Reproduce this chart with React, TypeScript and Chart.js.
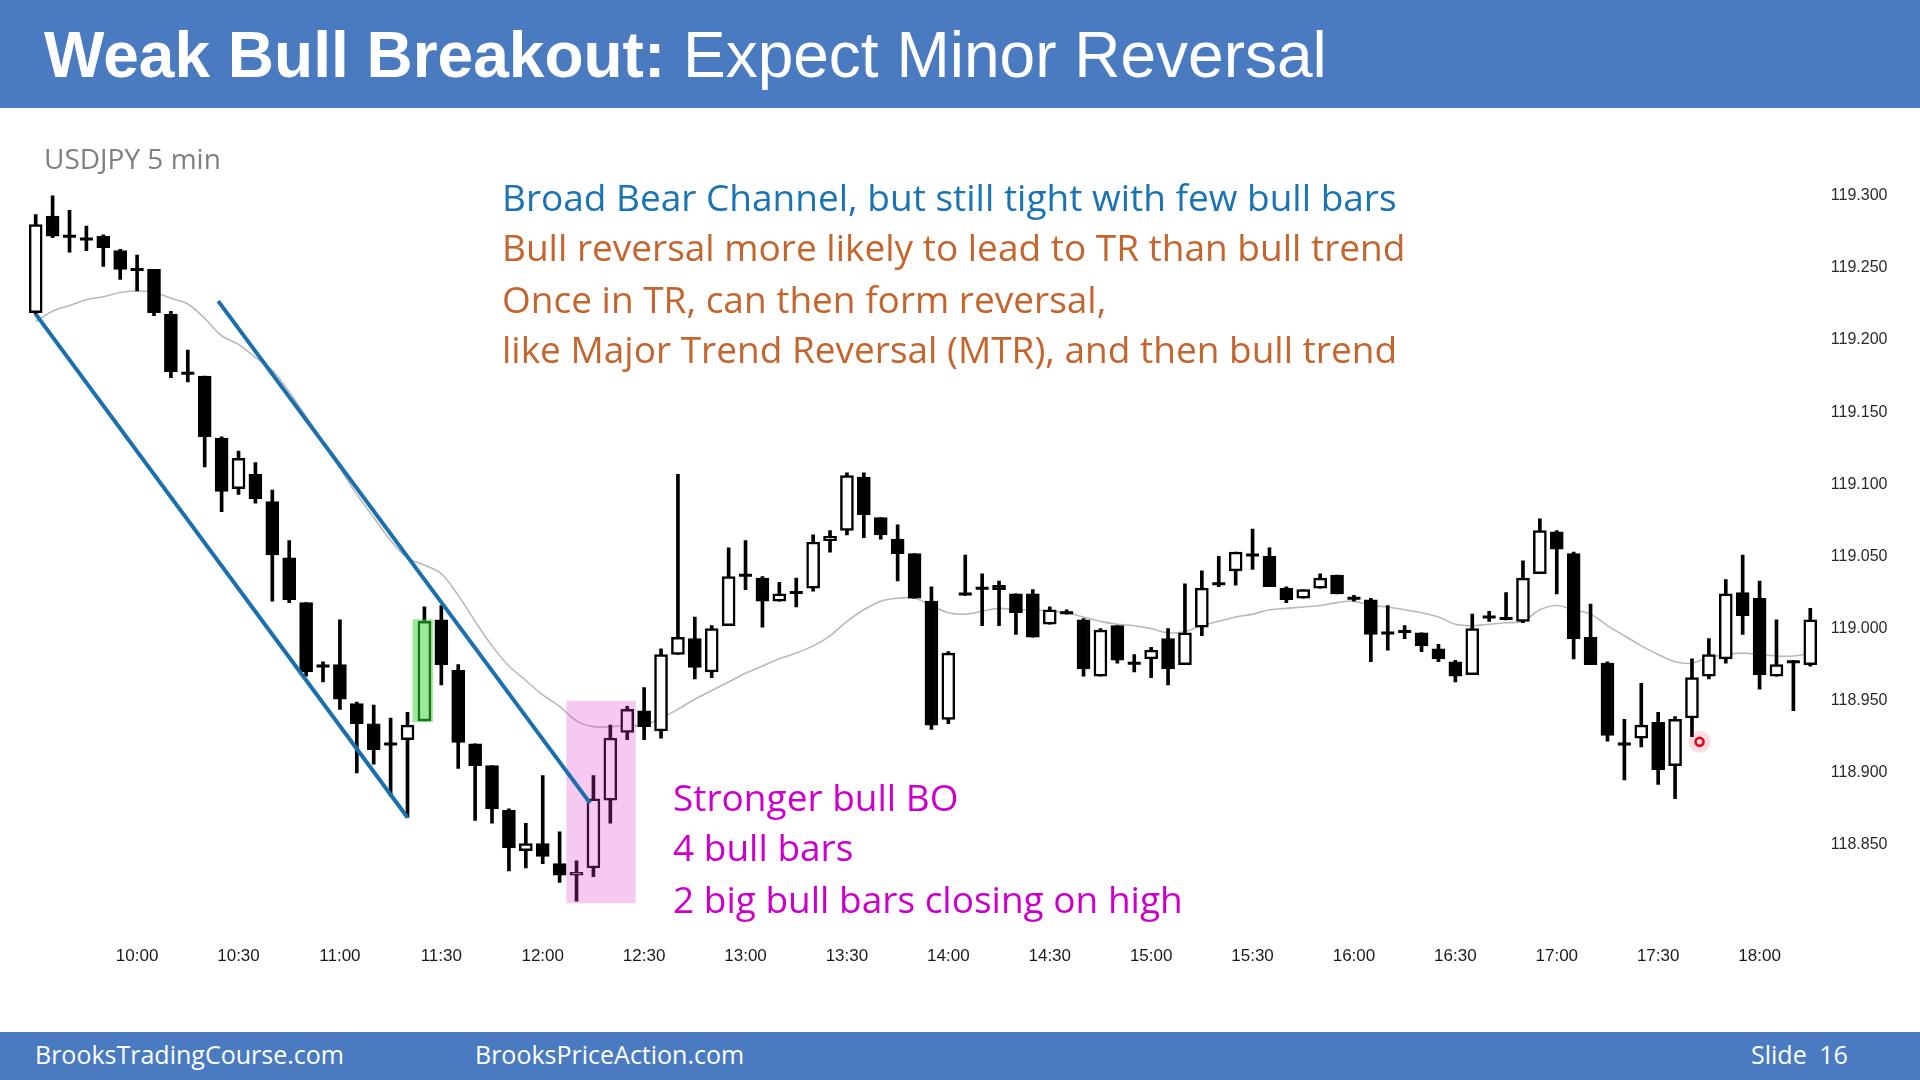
import React, { useEffect, useRef } from "react";
import { Chart, registerables } from "chart.js";

Chart.register(...registerables);

// ---------- DATA (USDJPY 5 min) ----------
const times = [
  "9:30", "9:35", "9:40", "9:45", "9:50", "9:55",
  "10:00", "10:05", "10:10", "10:15", "10:20", "10:25",
  "10:30", "10:35", "10:40", "10:45", "10:50", "10:55",
  "11:00", "11:05", "11:10", "11:15", "11:20", "11:25",
  "11:30", "11:35", "11:40", "11:45", "11:50", "11:55",
  "12:00", "12:05", "12:10", "12:15", "12:20", "12:25",
  "12:30", "12:35", "12:40", "12:45", "12:50", "12:55",
  "13:00", "13:05", "13:10", "13:15", "13:20", "13:25",
  "13:30", "13:35", "13:40", "13:45", "13:50", "13:55",
  "14:00", "14:05", "14:10", "14:15", "14:20", "14:25",
  "14:30", "14:35", "14:40", "14:45", "14:50", "14:55",
  "15:00", "15:05", "15:10", "15:15", "15:20", "15:25",
  "15:30", "15:35", "15:40", "15:45", "15:50", "15:55",
  "16:00", "16:05", "16:10", "16:15", "16:20", "16:25",
  "16:30", "16:35", "16:40", "16:45", "16:50", "16:55",
  "17:00", "17:05", "17:10", "17:15", "17:20", "17:25",
  "17:30", "17:35", "17:40", "17:45", "17:50", "17:55",
  "18:00", "18:05", "18:10", "18:15",
];

const opens = [
  119.219, 119.286, 119.272, 119.270, 119.272, 119.262,
  119.249, 119.249, 119.218, 119.177, 119.175, 119.132,
  119.097, 119.107, 119.088, 119.049, 119.018, 118.974,
  118.975, 118.948, 118.934, 118.920, 118.923, 118.936,
  119.006, 118.971, 118.920, 118.905, 118.874, 118.846,
  118.851, 118.837, 118.829, 118.834, 118.881, 118.928,
  118.943, 118.929, 118.982, 118.993, 118.970, 119.002,
  119.037, 119.035, 119.019, 119.025, 119.028, 119.061,
  119.068, 119.105, 119.077, 119.062, 119.052, 119.019,
  118.937, 119.024, 119.028, 119.030, 119.024, 119.024,
  119.003, 119.011, 119.006, 118.967, 119.002, 118.976,
  118.979, 118.993, 118.975, 119.001, 119.031, 119.040,
  119.051, 119.050, 119.028, 119.021, 119.028, 119.037,
  119.021, 119.020, 118.997, 118.998, 118.997, 118.986,
  118.977, 118.968, 119.008, 119.007, 119.005, 119.038,
  119.067, 119.052, 118.994, 118.976, 118.920, 118.924,
  118.935, 118.905, 118.938, 118.967, 118.979, 119.025,
  119.021, 118.967, 118.977, 118.975,
];

const highs = [
  119.287, 119.300, 119.290, 119.279, 119.273, 119.263,
  119.259, 119.249, 119.220, 119.193, 119.175, 119.133,
  119.123, 119.115, 119.096, 119.061, 119.018, 118.977,
  119.006, 118.949, 118.947, 118.938, 118.942, 119.015,
  119.016, 118.975, 118.920, 118.905, 118.875, 118.865,
  118.898, 118.859, 118.839, 118.898, 118.933, 118.946,
  118.959, 118.986, 119.107, 119.008, 119.002, 119.056,
  119.061, 119.036, 119.032, 119.035, 119.065, 119.068,
  119.108, 119.108, 119.077, 119.072, 119.052, 119.029,
  118.984, 119.051, 119.038, 119.033, 119.024, 119.027,
  119.015, 119.013, 119.007, 119.000, 119.002, 118.982,
  118.987, 119.000, 119.031, 119.040, 119.050, 119.053,
  119.069, 119.056, 119.029, 119.027, 119.038, 119.037,
  119.023, 119.021, 119.016, 119.002, 118.997, 118.989,
  118.978, 119.010, 119.012, 119.025, 119.047, 119.076,
  119.068, 119.053, 119.017, 118.977, 118.937, 118.962,
  118.942, 118.939, 118.979, 118.993, 119.034, 119.051,
  119.033, 119.006, 118.978, 119.014,
];

const lows = [
  119.218, 119.271, 119.261, 119.262, 119.251, 119.242,
  119.234, 119.217, 119.174, 119.171, 119.112, 119.081,
  119.093, 119.087, 119.019, 119.018, 118.967, 118.963,
  118.944, 118.900, 118.906, 118.884, 118.869, 118.936,
  118.961, 118.903, 118.867, 118.865, 118.832, 118.834,
  118.837, 118.824, 118.811, 118.828, 118.865, 118.923,
  118.923, 118.924, 118.982, 118.965, 118.966, 119.002,
  119.027, 119.001, 119.019, 119.015, 119.026, 119.053,
  119.065, 119.063, 119.062, 119.033, 119.021, 118.930,
  118.934, 119.023, 119.002, 119.002, 118.996, 118.994,
  119.003, 119.010, 118.967, 118.967, 118.976, 118.970,
  118.966, 118.961, 118.975, 118.995, 119.029, 119.030,
  119.041, 119.029, 119.018, 119.021, 119.028, 119.024,
  119.019, 118.977, 118.985, 118.993, 118.984, 118.977,
  118.963, 118.968, 119.005, 119.006, 119.004, 119.038,
  119.024, 118.979, 118.975, 118.922, 118.895, 118.918,
  118.892, 118.882, 118.925, 118.965, 118.976, 118.996,
  118.958, 118.967, 118.943, 118.974,
];

const closes = [
  119.280, 119.272, 119.272, 119.270, 119.264, 119.249,
  119.249, 119.219, 119.178, 119.177, 119.133, 119.095,
  119.118, 119.090, 119.051, 119.020, 118.970, 118.974,
  118.951, 118.934, 118.916, 118.920, 118.933, 119.005,
  118.975, 118.921, 118.905, 118.875, 118.848, 118.851,
  118.842, 118.829, 118.831, 118.882, 118.924, 118.944,
  118.932, 118.982, 118.994, 118.973, 119.000, 119.036,
  119.037, 119.019, 119.024, 119.025, 119.060, 119.064,
  119.106, 119.079, 119.065, 119.052, 119.021, 118.933,
  118.983, 119.024, 119.028, 119.027, 119.011, 118.994,
  119.013, 119.011, 118.972, 118.999, 118.978, 118.976,
  118.985, 118.972, 118.997, 119.028, 119.031, 119.053,
  119.051, 119.029, 119.020, 119.027, 119.035, 119.024,
  119.021, 118.996, 118.997, 118.998, 118.988, 118.979,
  118.967, 119.000, 119.008, 119.007, 119.035, 119.068,
  119.055, 118.993, 118.975, 118.926, 118.920, 118.933,
  118.902, 118.937, 118.966, 118.982, 119.024, 119.009,
  118.968, 118.975, 118.977, 119.006,
];

// 20-bar moving average
const movingAverage = [
  119.213, 119.220, 119.224, 119.228, 119.230, 119.233,
  119.234, 119.233, 119.229, 119.225, 119.215, 119.203,
  119.197, 119.188, 119.179, 119.164, 119.147, 119.129,
  119.111, 119.093, 119.077, 119.061, 119.049, 119.044,
  119.038, 119.023, 119.005, 118.988, 118.974, 118.964,
  118.954, 118.946, 118.936, 118.932, 118.932, 118.933,
  118.933, 118.938, 118.944, 118.951, 118.957, 118.963,
  118.969, 118.974, 118.979, 118.983, 118.988, 118.995,
  119.005, 119.013, 119.019, 119.021, 119.021, 119.016,
  119.011, 119.010, 119.012, 119.014, 119.013, 119.013,
  119.012, 119.011, 119.008, 119.005, 119.003, 119.002,
  119.000, 118.997, 118.998, 119.002, 119.005, 119.008,
  119.010, 119.013, 119.014, 119.015, 119.016, 119.018,
  119.019, 119.016, 119.015, 119.013, 119.011, 119.008,
  119.003, 119.002, 119.003, 119.004, 119.005, 119.013,
  119.016, 119.013, 119.010, 119.002, 118.995, 118.988,
  118.982, 118.977, 118.976, 118.980, 118.982, 118.983,
  118.982, 118.981, 118.981, 118.983,
];

const xTickLabels = [
  "10:00", "10:30", "11:00", "11:30", "12:00", "12:30", "13:00", "13:30",
  "14:00", "14:30", "15:00", "15:30", "16:00", "16:30", "17:00", "17:30", "18:00",
];
const yTickValues = [118.85, 118.9, 118.95, 119.0, 119.05, 119.1, 119.15, 119.2, 119.25, 119.3];

// annotation geometry in data units (bar index, price)
const channelLineLower = [
  { x: 0, y: 119.218 },
  { x: 22, y: 118.869 },
];
const channelLineUpper = [
  { x: 10.8, y: 119.227 },
  { x: 32.8, y: 118.879 },
];
const greenBox = { x1: 22.3, x2: 23.5, y1: 118.935, y2: 119.0065 };
const pinkBox = { x1: 31.4, x2: 35.5, y1: 118.8095, y2: 118.95 };
const redMarker = [{ x: 98.45, y: 118.9215 }];

function boxPoints(b: { x1: number; x2: number; y1: number; y2: number }) {
  return [
    { x: b.x1, y: b.y1 },
    { x: b.x2, y: b.y1 },
    { x: b.x2, y: b.y2 },
    { x: b.x1, y: b.y2 },
    { x: b.x1, y: b.y1 },
  ];
}

const BLUE_BAND = "#4a7bc1";

export default function App() {
  const canvasRef = useRef<HTMLCanvasElement | null>(null);

  useEffect(() => {
    const canvas = canvasRef.current;
    if (!canvas) return;

    const wickData = times.map((_, i) => ({ x: i, y: [lows[i], highs[i]] }));
    const bodyIdx = times.map((_, i) => i).filter((i) => opens[i] !== closes[i]);
    const bodyData = bodyIdx.map((i) => ({
      x: i,
      y: [Math.min(opens[i], closes[i]), Math.max(opens[i], closes[i])],
    }));
    const bodyColors = bodyIdx.map((i) => (closes[i] > opens[i] ? "#ffffff" : "#000000"));
    const dojiData = times
      .map((_, i) => i)
      .filter((i) => opens[i] === closes[i])
      .map((i) => ({ x: i, y: closes[i] }));
    const maData = movingAverage.map((v, i) => ({ x: i, y: v }));

    const chart = new Chart(canvas, {
      type: "bar",
      data: {
        datasets: [
          {
            type: "line",
            data: maData,
            borderColor: "#b9b9b9",
            borderWidth: 1.6,
            pointRadius: 0,
            tension: 0.35,
            fill: false,
            order: 8,
          } as any,
          {
            type: "bar",
            data: wickData as any,
            backgroundColor: "#000000",
            borderWidth: 0,
            barThickness: 3,
            grouped: false,
            order: 6,
          } as any,
          {
            type: "bar",
            data: bodyData as any,
            backgroundColor: bodyColors,
            borderColor: "#000000",
            borderWidth: 2.5,
            borderSkipped: false,
            barThickness: 13,
            grouped: false,
            order: 5,
          } as any,
          {
            type: "line",
            data: dojiData,
            showLine: false,
            pointStyle: "line",
            pointRadius: 6.5,
            pointBorderWidth: 3,
            pointBorderColor: "#000000",
            borderColor: "#000000",
            order: 4,
          } as any,
          {
            type: "line",
            data: boxPoints(greenBox),
            fill: "shape",
            backgroundColor: "rgba(58,212,58,0.52)",
            borderColor: "rgba(0,0,0,0)",
            borderWidth: 1,
            pointRadius: 0,
            tension: 0,
            order: 3,
          } as any,
          {
            type: "line",
            data: boxPoints(pinkBox),
            fill: "shape",
            backgroundColor: "rgba(217,56,198,0.27)",
            borderColor: "rgba(0,0,0,0)",
            borderWidth: 1,
            pointRadius: 0,
            tension: 0,
            order: 3,
          } as any,
          {
            type: "line",
            data: channelLineLower,
            borderColor: "#1a6fae",
            borderWidth: 4,
            pointRadius: 0,
            fill: false,
            order: 2,
          } as any,
          {
            type: "line",
            data: channelLineUpper,
            borderColor: "#1a6fae",
            borderWidth: 4,
            pointRadius: 0,
            fill: false,
            order: 2,
          } as any,
          {
            type: "line",
            data: redMarker,
            showLine: false,
            pointRadius: 11,
            pointBackgroundColor: "rgba(255,40,60,0.16)",
            pointBorderWidth: 0,
            pointBorderColor: "rgba(0,0,0,0)",
            order: 1,
          } as any,
          {
            type: "line",
            data: redMarker,
            showLine: false,
            pointRadius: 4,
            pointBackgroundColor: "#ffd0d4",
            pointBorderWidth: 2.5,
            pointBorderColor: "#e3001b",
            order: 0,
          } as any,
        ],
      },
      options: {
        responsive: false,
        animation: false,
        events: [],
        layout: { padding: { left: 18.8, right: 21.2, top: 167, bottom: 97 } },
        plugins: {
          legend: { display: false },
          tooltip: { enabled: false },
        },
        scales: {
          x: {
            type: "linear",
            min: -1,
            max: 105.8,
            offset: false,
            grid: { display: false, drawTicks: false },
            border: { display: false },
            ticks: {
              autoSkip: false,
              maxRotation: 0,
              padding: 3,
              color: "#1a1a1a",
              font: { family: "'Liberation Sans', Arial, sans-serif", size: 17 },
              callback: (v: any) => times[Math.round(Number(v))] ?? "",
            },
            afterBuildTicks: (scale: any) => {
              scale.ticks = xTickLabels.map((l) => ({ value: times.indexOf(l) }));
            },
            afterFit: (scale: any) => {
              scale.height = 40;
            },
          },
          y: {
            type: "linear",
            position: "right",
            min: 118.782,
            max: 119.32,
            beginAtZero: false,
            grid: { display: false, drawTicks: false },
            border: { display: false },
            ticks: {
              padding: 7,
              color: "#2a2a2a",
              font: { family: "'Liberation Sans', Arial, sans-serif", size: 16 },
              callback: (v: any) => Number(v).toFixed(3),
            },
            afterBuildTicks: (scale: any) => {
              scale.ticks = yTickValues.map((v) => ({ value: v }));
            },
            afterFit: (scale: any) => {
              scale.width = 75;
            },
          },
        },
      } as any,
    });

    return () => {
      chart.destroy();
    };
  }, []);

  const textBase: React.CSSProperties = {
    position: "absolute",
    whiteSpace: "nowrap",
    fontFamily: "'Open Sans', sans-serif",
    fontSize: 37,
    lineHeight: "50px",
    height: 50,
  };

  return (
    <div
      style={{
        position: "absolute",
        left: 0,
        top: 0,
        width: 1920,
        height: 1080,
        overflow: "hidden",
        background: "#ffffff",
      }}
    >
      <div
        style={{
          position: "absolute",
          left: 0,
          top: 0,
          width: 1920,
          height: 108,
          background: BLUE_BAND,
        }}
      />
      <div
        style={{
          position: "absolute",
          left: 44,
          top: 15,
          height: 80,
          lineHeight: "80px",
          whiteSpace: "nowrap",
          color: "#ffffff",
          fontFamily: "'Liberation Sans', Arial, sans-serif",
          fontSize: 64,
        }}
      >
        <span style={{ fontWeight: "bold" }}>Weak Bull Breakout:</span>
        <span> Expect Minor Reversal</span>
      </div>

      <canvas
        ref={canvasRef}
        width={1920}
        height={1080}
        style={{ position: "absolute", left: 0, top: 0, width: 1920, height: 1080 }}
      />

      <div
        style={{
          ...textBase,
          left: 44,
          top: 138,
          fontSize: 28,
          lineHeight: "40px",
          height: 40,
          color: "#7f7f7f",
        }}
      >
        USDJPY 5 min
      </div>

      <div style={{ ...textBase, left: 502, top: 172, color: "#1a74b3" }}>
        Broad Bear Channel, but still tight with few bull bars
      </div>
      <div style={{ ...textBase, left: 502, top: 222, color: "#c4652e" }}>
        Bull reversal more likely to lead to TR than bull trend
      </div>
      <div style={{ ...textBase, left: 502, top: 274, color: "#c4652e" }}>
        Once in TR, can then form reversal,
      </div>
      <div style={{ ...textBase, left: 502, top: 324, color: "#c4652e" }}>
        like Major Trend Reversal (MTR), and then bull trend
      </div>

      <div style={{ ...textBase, left: 673, top: 772, color: "#cc00cc" }}>Stronger bull BO</div>
      <div style={{ ...textBase, left: 673, top: 822, color: "#cc00cc" }}>4 bull bars</div>
      <div style={{ ...textBase, left: 673, top: 874, color: "#cc00cc" }}>
        2 big bull bars closing on high
      </div>

      <div
        style={{
          position: "absolute",
          left: 0,
          top: 1032,
          width: 1920,
          height: 48,
          background: BLUE_BAND,
        }}
      />
      <div
        style={{
          ...textBase,
          left: 35,
          top: 1034,
          fontSize: 25,
          lineHeight: "40px",
          height: 40,
          color: "#ffffff",
        }}
      >
        BrooksTradingCourse.com
      </div>
      <div
        style={{
          ...textBase,
          left: 475,
          top: 1034,
          fontSize: 25,
          lineHeight: "40px",
          height: 40,
          color: "#ffffff",
        }}
      >
        BrooksPriceAction.com
      </div>
      <div
        style={{
          ...textBase,
          left: 1751,
          top: 1034,
          fontSize: 25,
          lineHeight: "40px",
          height: 40,
          color: "#ffffff",
          wordSpacing: 6,
        }}
      >
        Slide 16
      </div>
    </div>
  );
}
